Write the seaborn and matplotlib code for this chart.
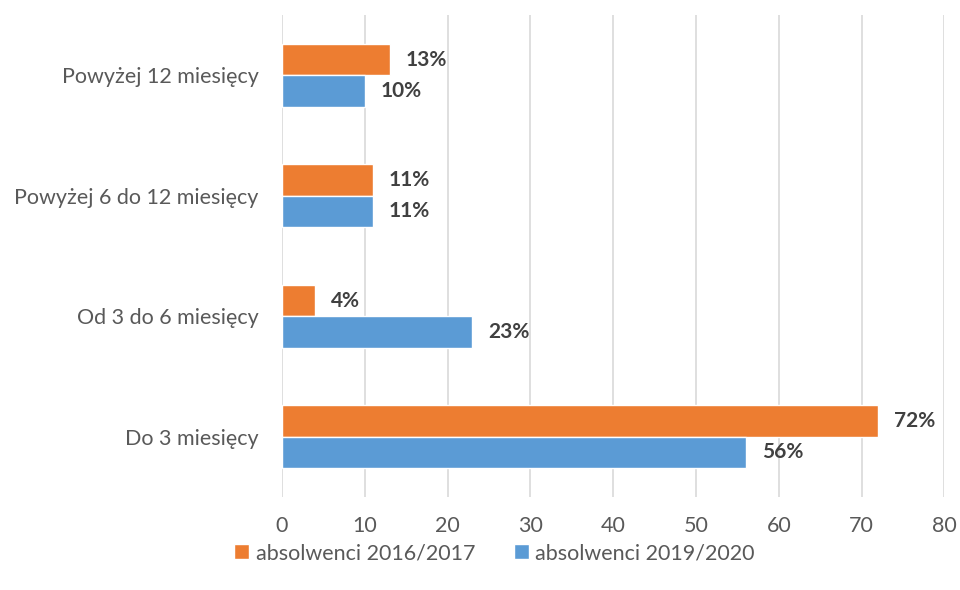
import pandas as pd
import seaborn as sns
import matplotlib.pyplot as plt

categories = ['Powyżej 12 miesięcy', 'Powyżej 6 do 12 miesięcy', 'Od 3 do 6 miesięcy', 'Do 3 miesięcy']
series = ['absolwenci 2016/2017', 'absolwenci 2019/2020']
vals_2016 = [13, 11, 4, 72]
vals_2019 = [10, 11, 23, 56]
xticks = [0, 10, 20, 30, 40, 50, 60, 70, 80]

df = pd.DataFrame({
    'kategoria': categories * 2,
    'grupa': [series[0]] * 4 + [series[1]] * 4,
    'wartosc': vals_2016 + vals_2019,
})

sns.set_style('white')
plt.rcParams['font.family'] = ['Lato', 'DejaVu Sans']
txt = '#595959'

fig = plt.figure(figsize=(9.6, 5.9), dpi=100)
ax = fig.add_axes([0.29375, 0.1576, 0.690, 0.817])

sns.barplot(data=df, x='wartosc', y='kategoria', hue='grupa', order=categories,
            hue_order=series, palette=['#ED7D31', '#5B9BD5'], orient='h',
            width=0.52, saturation=1, ax=ax, legend=True)

# etykiety z wartościami
for cont in ax.containers:
    for bar in cont:
        w = bar.get_width()
        ax.annotate(f'{w:.0f}%', (w, bar.get_y() + bar.get_height() / 2),
                    xytext=(11.5, 0), textcoords='offset points', va='center', ha='left',
                    fontsize=15, fontweight='bold', color='#404040')

ax.set_xlim(0, 80)
ax.set_xticks(xticks)
ax.set_xlabel('')
ax.set_ylabel('')
ax.grid(axis='x', color='#D9D9D9', linewidth=1.2)
ax.set_axisbelow(True)
for s in ax.spines.values():
    s.set_visible(False)
ax.tick_params(axis='both', length=0, labelsize=15.5, labelcolor=txt)
ax.tick_params(axis='y', pad=17)
ax.tick_params(axis='x', pad=14)

handles, labels = ax.get_legend_handles_labels()
ax.get_legend().remove()
fig.legend(handles, labels, loc='center', bbox_to_anchor=(0.515, 0.062), ncol=2, frameon=False,
           fontsize=15.5, handlelength=0.7, handleheight=0.7, handletextpad=0.3,
           columnspacing=1.8, labelcolor=txt)

fig.savefig('out.png', dpi=100)
